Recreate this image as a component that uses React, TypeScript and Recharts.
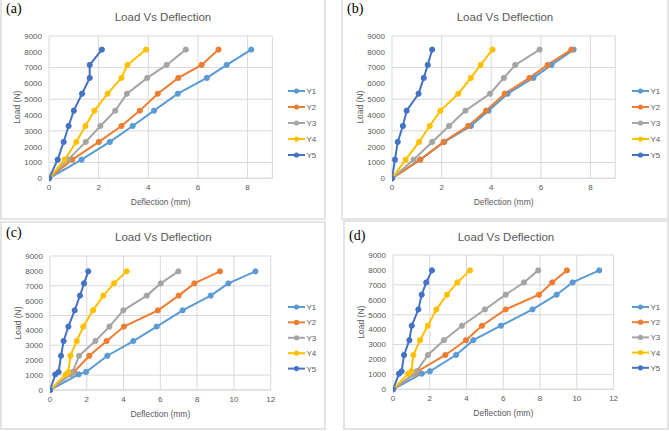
import { LineChart, Line, XAxis, YAxis, CartesianGrid } from 'recharts';

const seriesNames = ['Y1', 'Y2', 'Y3', 'Y4', 'Y5'];
const seriesColors = ['#5B9BD5', '#ED7D31', '#A5A5A5', '#FFC000', '#4472C4'];

// load steps (N)
const loadsAB = [0, 1180, 2300, 3310, 4280, 5350, 6350, 7170, 8140];
const loadsCD = [0, 1050, 1210, 2300, 3290, 4260, 5350, 6340, 7160, 7970];

// deflections (mm), panel (a)
const a1 = [0, 1.31, 2.45, 3.37, 4.23, 5.19, 6.36, 7.16, 8.15];
const a2 = [0, 0.94, 2.01, 2.92, 3.66, 4.38, 5.21, 6.15, 6.83];
const a3 = [0, 0.77, 1.48, 2.07, 2.67, 3.14, 3.96, 4.74, 5.51];
const a4 = [0, 0.63, 1.1, 1.47, 1.83, 2.36, 2.92, 3.16, 3.91];
const a5 = [0, 0.35, 0.59, 0.79, 1.0, 1.33, 1.64, 1.64, 2.13];

// panel (b)
const b1 = [0, 1.14, 2.11, 3.18, 3.89, 4.66, 5.7, 6.43, 7.32];
const b2 = [0, 1.14, 2.08, 3.07, 3.79, 4.54, 5.54, 6.27, 7.23];
const b3 = [0, 0.87, 1.62, 2.3, 2.96, 3.95, 4.51, 4.97, 5.95];
const b4 = [0, 0.55, 1.09, 1.52, 1.95, 2.67, 3.18, 3.57, 4.05];
const b5 = [0, 0.12, 0.23, 0.44, 0.59, 1.07, 1.28, 1.44, 1.62];

// panel (c)
const c1 = [0, 1.56, 1.96, 3.12, 4.53, 5.8, 7.21, 8.74, 9.7, 11.17];
const c2 = [0, 1.1, 1.3, 2.14, 3.08, 4.02, 5.87, 7.0, 7.85, 9.24];
const c3 = [0, 1.14, 1.23, 1.58, 2.47, 3.23, 3.99, 5.26, 6.02, 6.98];
const c4 = [0, 0.85, 1.0, 1.11, 1.45, 1.81, 2.34, 2.9, 3.48, 4.17];
const c5 = [0, 0.29, 0.47, 0.6, 0.74, 1.0, 1.34, 1.63, 1.85, 2.08];

// panel (d)
const d1 = [0, 1.56, 2.01, 3.43, 4.37, 5.87, 7.59, 8.9, 9.77, 11.22];
const d2 = [0, 1.2, 1.35, 2.85, 3.97, 4.84, 6.13, 7.94, 8.66, 9.46];
const d3 = [0, 1.15, 1.29, 1.9, 2.77, 3.75, 5.0, 6.13, 7.12, 7.9];
const d4 = [0, 0.83, 1.0, 1.11, 1.47, 1.89, 2.36, 2.94, 3.5, 4.19];
const d5 = [0, 0.33, 0.47, 0.6, 0.89, 1.02, 1.38, 1.56, 1.81, 2.12];

const xTicksAB = [0, 2, 4, 6, 8];
const xTicksCD = [0, 2, 4, 6, 8, 10, 12];
const yTicks = [0, 1000, 2000, 3000, 4000, 5000, 6000, 7000, 8000, 9000];

const FONT = '"Liberation Sans", Arial, sans-serif';
const GRAY = '#595959';

const panels = [
  {
    tag: '(a)', loads: loadsAB, defl: [a1, a2, a3, a4, a5], xMax: 9, xTicks: xTicksAB,
    box: { left: 0, top: -2, width: 326, height: 222 },
    plot: { left: 49.3, top: 35.7, right: 272.7, bottom: 178 },
    title: { x: 163, y: 17 }, tagPos: { x: 6, y: 1 },
    legend: { x: 288, y: 90.7, step: 16 },
  },
  {
    tag: '(b)', loads: loadsAB, defl: [b1, b2, b3, b4, b5], xMax: 9, xTicks: xTicksAB,
    box: { left: 341, top: -2, width: 328, height: 222 },
    plot: { left: 391.7, top: 35.7, right: 615, bottom: 178 },
    title: { x: 505, y: 17 }, tagPos: { x: 347, y: 1 },
    legend: { x: 631.7, y: 90.7, step: 16 },
  },
  {
    tag: '(c)', loads: loadsCD, defl: [c1, c2, c3, c4, c5], xMax: 12, xTicks: xTicksCD,
    box: { left: 0, top: 221, width: 326, height: 209 },
    plot: { left: 50, top: 255.7, right: 270.7, bottom: 389.7 },
    title: { x: 163.3, y: 237.3 }, tagPos: { x: 6, y: 225 },
    legend: { x: 288, y: 307.3, step: 15.4 },
  },
  {
    tag: '(d)', loads: loadsCD, defl: [d1, d2, d3, d4, d5], xMax: 12, xTicks: xTicksCD,
    box: { left: 343, top: 220, width: 326, height: 210 },
    plot: { left: 392.7, top: 254.7, right: 613.3, bottom: 389 },
    title: { x: 506, y: 236.7 }, tagPos: { x: 349, y: 228 },
    legend: { x: 631.7, y: 307.3, step: 15.2 },
  },
];

function Panel({ p }: { p: (typeof panels)[number] }) {
  const padL = 50;
  const padT = 10;
  const padR = 10;
  const padB = 40;
  const w = p.plot.right - p.plot.left + padL + padR;
  const h = p.plot.bottom - p.plot.top + padT + padB;
  return (
    <>
      <div
        style={{
          position: 'absolute',
          left: p.box.left,
          top: p.box.top,
          width: p.box.width,
          height: p.box.height,
          boxSizing: 'border-box',
          border: '2px solid #e4e4e4',
        }}
      />
      <div
        style={{
          position: 'absolute',
          left: p.tagPos.x,
          top: p.tagPos.y,
          fontFamily: '"Liberation Serif", serif',
          fontSize: 14,
          color: '#000',
          lineHeight: '16px',
        }}
      >
        {p.tag}
      </div>
      <div
        style={{
          position: 'absolute',
          left: p.title.x - 80,
          width: 160,
          top: p.title.y - 8,
          lineHeight: '16px',
          textAlign: 'center',
          fontFamily: FONT,
          fontSize: 11.5,
          color: GRAY,
        }}
      >
        Load Vs Deflection
      </div>
      <div style={{ position: 'absolute', left: p.plot.left - padL, top: p.plot.top - padT }}>
        <LineChart width={w} height={h} margin={{ top: padT, right: padR, left: 10, bottom: 0 }}>
          <CartesianGrid stroke="#d9d9d9" strokeWidth={1} />
          <XAxis
            type="number"
            dataKey="x"
            domain={[0, p.xMax]}
            ticks={p.xTicks}
            allowDataOverflow
            height={padB}
            axisLine={{ stroke: '#d9d9d9' }}
            tickLine={false}
            tickSize={4}
            tickMargin={2}
            tick={{ fill: GRAY, fontSize: 8, fontFamily: FONT }}
            label={{
              value: 'Deflection (mm)',
              position: 'center',
              dy: 4,
              fill: GRAY,
              fontSize: 8.5,
              fontFamily: FONT,
            }}
          />
          <YAxis
            type="number"
            dataKey="y"
            domain={[0, 9000]}
            ticks={yTicks}
            width={40}
            axisLine={false}
            tickLine={false}
            tickSize={5}
            tickMargin={2}
            tick={{ fill: GRAY, fontSize: 8, fontFamily: FONT }}
            label={{
              value: 'Load (N)',
              angle: -90,
              position: 'center',
              dx: -12,
              fill: GRAY,
              fontSize: 8.5,
              fontFamily: FONT,
            }}
          />
          {p.defl.map((xs, si) => (
            <Line
              key={seriesNames[si]}
              name={seriesNames[si]}
              data={p.loads.map((y, i) => ({ x: xs[i], y }))}
              dataKey="y"
              type="linear"
              stroke={seriesColors[si]}
              strokeWidth={2}
              dot={{ r: 2.6, fill: seriesColors[si], stroke: seriesColors[si], strokeWidth: 1 }}
              isAnimationActive={false}
            />
          ))}
        </LineChart>
      </div>
      <svg
        style={{ position: 'absolute', left: p.legend.x, top: p.legend.y - 8, overflow: 'visible' }}
        width={30}
        height={p.legend.step * 5}
      >
        {seriesNames.map((n, i) => {
          const cy = 8 + i * p.legend.step;
          return (
            <g key={n}>
              <line x1={0} x2={17} y1={cy} y2={cy} stroke={seriesColors[i]} strokeWidth={2} />
              <circle cx={8.5} cy={cy} r={2.6} fill={seriesColors[i]} />
              <text x={18.5} y={cy + 3} fill={GRAY} fontSize={8} fontFamily={FONT}>
                {n}
              </text>
            </g>
          );
        })}
      </svg>
    </>
  );
}

export default function App() {
  return (
    <div
      style={{
        position: 'absolute',
        left: 0,
        top: 0,
        width: 669,
        height: 431,
        background: '#fff',
        overflow: 'hidden',
      }}
    >
      {panels.map((p) => (
        <Panel key={p.tag} p={p} />
      ))}
    </div>
  );
}
